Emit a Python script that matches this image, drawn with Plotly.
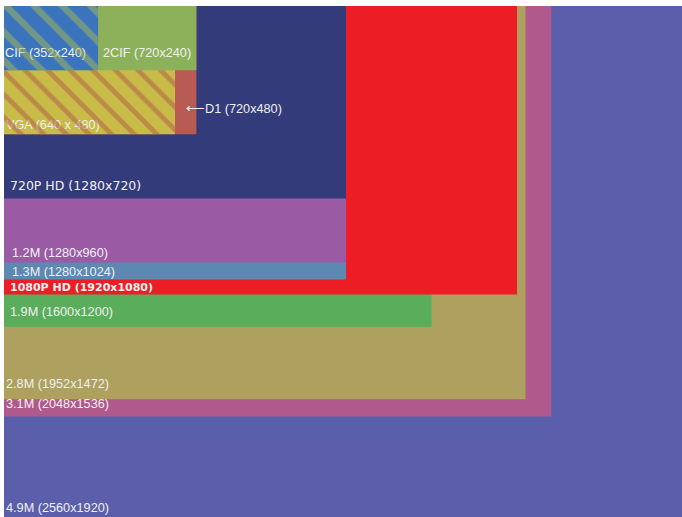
import plotly.graph_objects as go

# ---------------- data ----------------
names = ["4.9M (2560x1920)", "3.1M (2048x1536)", "2.8M (1952x1472)", "1.9M (1600x1200)",
         "1080P HD (1920x1080)", "1.3M (1280x1024)", "1.2M (1280x960)", "720P HD (1280x720)",
         "D1 (720x480)", "VGA (640 x 480)", "2CIF (720x240)", "CIF (352x240)"]
res_w = [2560, 2048, 1952, 1600, 1920, 1280, 1280, 1280, 720, 640, 720, 352]
res_h = [1920, 1536, 1472, 1200, 1080, 1024, 960, 720, 480, 480, 240, 240]

# ---------------- style ----------------
fill_colors = ["#5b5fab", "#b0598c", "#aea05e", "#5aad5b", "#ec1d25", "#5b89b1",
               "#9a5ba4", "#343b7b", "#b85b55", "#c8bb47", "#8db05b", "#3b74bd"]
hatch = {
    "VGA (640 x 480)": dict(shape="\\", fgcolor="#b05a4a", bgcolor="rgba(0,0,0,0)", size=16, solidity=0.3),
    "CIF (352x240)": dict(shape="\\", fgcolor="#a8ba50", bgcolor="rgba(0,0,0,0)", size=20, solidity=0.32),
}
label_text = {"D1 (720x480)": "\u27f5D1 (720x480)"}
# label offsets in px: from rect's left edge, and above rect's bottom edge
label_dx = [2, 2, 2, 6, 6, 8, 8, 6, 182, 2, 99, 1]
label_dy = [10.5, 11.5, 14.5, 14, 6.5, 6.3, 9, 11.5, 24, 8.5, 16.5, 16.5]
label_font = {"720P HD (1280x720)": dict(family="DejaVu Sans", size=12.5),
              "1080P HD (1920x1080)": dict(family="DejaVu Sans", size=11, weight="bold")}
default_font = dict(family="Liberation Sans, Arial, sans-serif", size=12.7)
text_color = "#f0f0f0"

W, H = 682, 517
S = 0.2672          # px per resolution unit
OX, OY = 4, 6       # px offset of origin

fig = go.Figure()


def label_trace(i):
    f = dict(default_font)
    f.update(label_font.get(names[i], {}))
    f["color"] = text_color
    return go.Scatter(x=[label_dx[i] / S], y=[res_h[i] - label_dy[i] / S], mode="text",
                      text=[label_text.get(names[i], names[i])], textposition="middle right",
                      textfont=f, hoverinfo="skip", showlegend=False)


deferred = []
for i, n in enumerate(names):
    w, h = res_w[i], res_h[i]
    fig.add_trace(go.Scatter(x=[0, w, w, 0, 0], y=[0, 0, h, h, 0], mode="none", fill="toself",
                             fillcolor=fill_colors[i], hoverinfo="skip", showlegend=False))
    if n in hatch:
        fig.add_trace(label_trace(i))
        fig.add_trace(go.Scatter(x=[0, w, w, 0, 0], y=[0, 0, h, h, 0], mode="none", fill="toself",
                                 fillcolor="rgba(0,0,0,0)", fillpattern=hatch[n],
                                 hoverinfo="skip", showlegend=False))
    else:
        deferred.append(i)

for i in deferred:
    fig.add_trace(label_trace(i))

fig.update_layout(
    width=W, height=H, margin=dict(l=0, r=0, t=0, b=0),
    paper_bgcolor="white", plot_bgcolor="white", showlegend=False,
    xaxis=dict(range=[-OX / S, (W - OX) / S], visible=False, fixedrange=True),
    yaxis=dict(range=[(H - OY) / S, -OY / S], visible=False, fixedrange=True),
)
fig.write_html("out.html", config={"displayModeBar": False},
               post_script="document.body.style.margin='0';document.body.style.overflow='hidden';")
